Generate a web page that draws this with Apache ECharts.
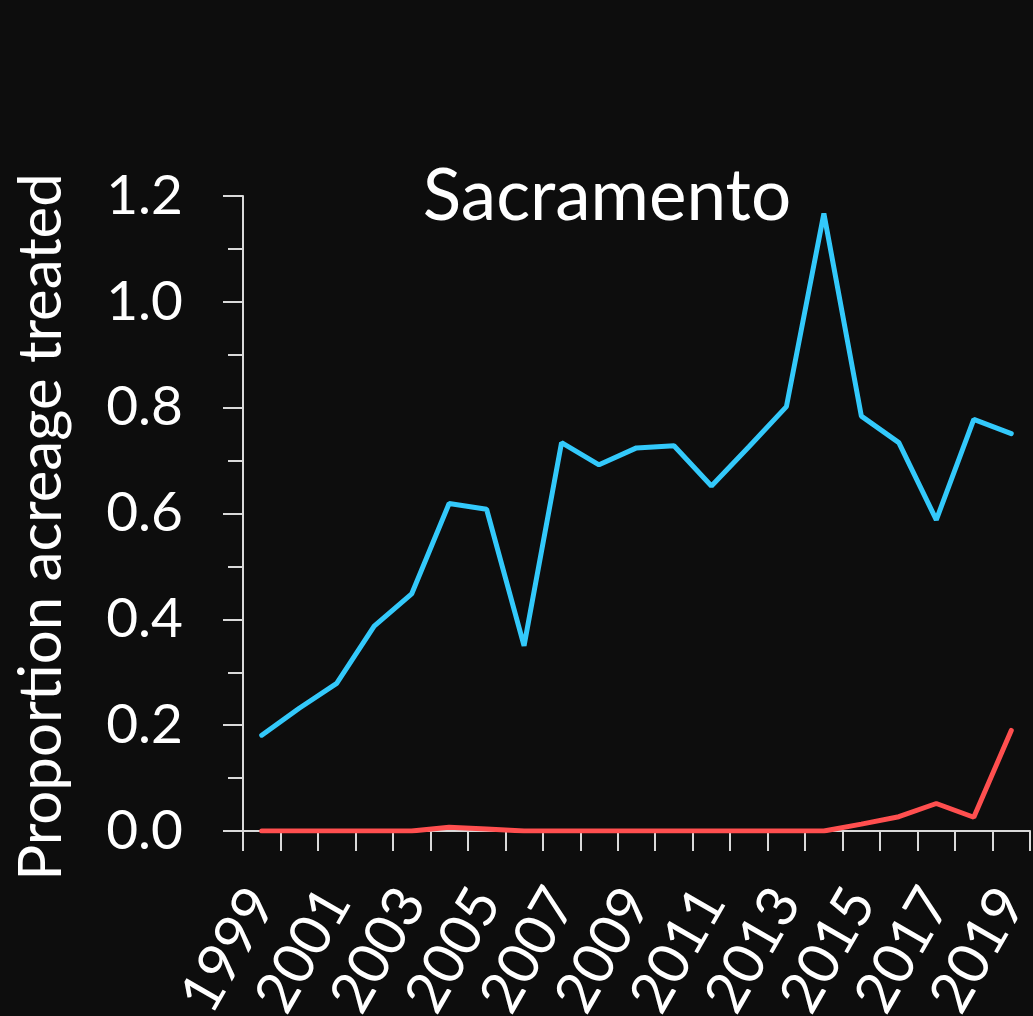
<!DOCTYPE html>
<html>
<head>
<meta charset="utf-8">
<script src="https://cdn.jsdelivr.net/npm/echarts@6/dist/echarts.min.js"></script>
<style>
  html, body { margin: 0; padding: 0; background: #0d0d0d; }
  #chart { width: 1033px; height: 1016px; }
</style>
</head>
<body>
<div id="chart"></div>
<script>
// Years on the horizontal axis
const years = ['1999','2000','2001','2002','2003','2004','2005','2006','2007','2008','2009',
               '2010','2011','2012','2013','2014','2015','2016','2017','2018','2019'];

// Proportion of acreage treated, blue series
const blueSeries = [0.181, 0.232, 0.279, 0.387, 0.448, 0.619, 0.608, 0.350, 0.734, 0.692, 0.724,
                    0.728, 0.652, 0.726, 0.802, 1.167, 0.784, 0.734, 0.588, 0.778, 0.751];

// Proportion of acreage treated, red series
const redSeries = [0.000, 0.000, 0.000, 0.000, 0.000, 0.007, 0.004, 0.000, 0.000, 0.000, 0.000,
                   0.000, 0.000, 0.000, 0.000, 0.000, 0.013, 0.027, 0.052, 0.026, 0.190];

// Y axis tick values
const yTicks = [0, 0.2, 0.4, 0.6, 0.8, 1.0, 1.2];

const FONT = 'Lato, "Open Sans", sans-serif';
const AXIS_COLOR = '#d9d9d9';

const chart = echarts.init(document.getElementById('chart'), null, { renderer: 'canvas' });

chart.setOption({
  backgroundColor: '#0d0d0d',
  animation: false,
  grid: { left: 243, right: 3, top: 196, bottom: 185, containLabel: false, outerBoundsMode: 'none' },
  graphic: [
    {
      type: 'text',
      x: 607, y: 197,
      style: {
        text: 'Sacramento',
        fill: '#ffffff',
        font: '71px ' + FONT,
        align: 'center',
        verticalAlign: 'middle'
      }
    },
    {
      type: 'text',
      x: 42, y: 527,
      rotation: Math.PI / 2,
      style: {
        text: 'Proportion acreage treated',
        fill: '#ffffff',
        font: '60px ' + FONT,
        align: 'center',
        verticalAlign: 'middle'
      }
    }
  ],
  xAxis: {
    type: 'category',
    data: years,
    boundaryGap: true,
    axisLine: { show: true, lineStyle: { color: AXIS_COLOR, width: 2 } },
    axisTick: { show: true, interval: 0, length: 20, alignWithLabel: false,
                lineStyle: { color: AXIS_COLOR, width: 2 } },
    axisLabel: {
      interval: 1,
      rotate: 60,
      margin: 62,
      color: '#ffffff',
      fontSize: 57,
      fontFamily: FONT
    },
    splitLine: { show: false }
  },
  yAxis: {
    type: 'value',
    min: yTicks[0],
    max: yTicks[yTicks.length - 1],
    interval: 0.2,
    axisLine: { show: true, lineStyle: { color: AXIS_COLOR, width: 2 } },
    axisTick: { show: true, length: 20, lineStyle: { color: AXIS_COLOR, width: 2 } },
    minorTick: { show: true, splitNumber: 2, length: 15, lineStyle: { color: AXIS_COLOR, width: 2 } },
    axisLabel: {
      margin: 60,
      color: '#ffffff',
      fontSize: 55,
      fontFamily: FONT,
      formatter: v => v.toFixed(1)
    },
    splitLine: { show: false },
    minorSplitLine: { show: false }
  },
  series: [
    {
      name: 'blue',
      type: 'line',
      data: blueSeries,
      symbol: 'none',
      smooth: false,
      lineStyle: { color: '#33c9fb', width: 5, cap: 'round' },
      z: 3
    },
    {
      name: 'red',
      type: 'line',
      data: redSeries,
      symbol: 'none',
      smooth: false,
      lineStyle: { color: '#ff4f4f', width: 5, cap: 'round' },
      z: 4
    }
  ]
});
</script>
</body>
</html>
